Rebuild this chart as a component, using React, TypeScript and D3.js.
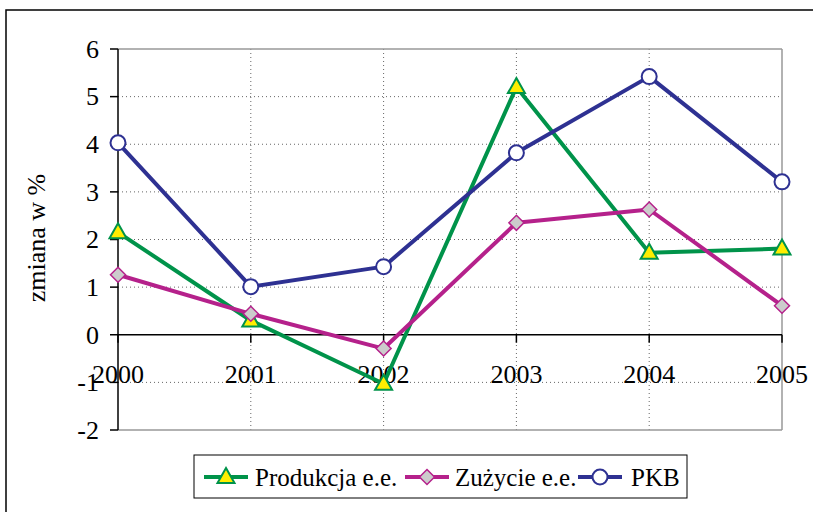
import React from 'react';
import * as d3 from 'd3';

const years = ['2000', '2001', '2002', '2003', '2004', '2005'];
const produkcja = [2.15, 0.3, -1.03, 5.2, 1.72, 1.81];
const zuzycie = [1.26, 0.44, -0.29, 2.35, 2.63, 0.61];
const pkb = [4.03, 1.01, 1.43, 3.82, 5.42, 3.21];
const yTicks = [-2, -1, 0, 1, 2, 3, 4, 5, 6];

const GREEN = '#00934a';
const MAGENTA = '#b5218b';
const NAVY = '#2e3192';
const FONT = "'Liberation Serif', 'Times New Roman', 'DejaVu Serif', serif";

const W = 813;
const H = 512;
const plot = { left: 118, right: 782, top: 49, bottom: 430 };

const x = d3.scalePoint<string>().domain(years).range([plot.left, plot.right]);
const y = d3.scaleLinear().domain([-2, 6]).range([plot.bottom, plot.top]);

const line = d3.line<number>()
  .x((_, i) => x(years[i])!)
  .y(d => y(d));

const Triangle = ({ cx, cy }: { cx: number; cy: number }) => (
  <path
    d={`M${cx},${cy - 9} L${cx + 8.5},${cy + 6} L${cx - 8.5},${cy + 6} Z`}
    fill="#ffed00"
    stroke={GREEN}
    strokeWidth={2}
  />
);

const Diamond = ({ cx, cy }: { cx: number; cy: number }) => (
  <path
    d={`M${cx},${cy - 7.5} L${cx + 7.5},${cy} L${cx},${cy + 7.5} L${cx - 7.5},${cy} Z`}
    fill="#cccccc"
    stroke={MAGENTA}
    strokeWidth={1.5}
  />
);

const Circle = ({ cx, cy }: { cx: number; cy: number }) => (
  <circle cx={cx} cy={cy} r={7.5} fill="#fff" stroke={NAVY} strokeWidth={2} />
);

const series = [
  { name: 'Produkcja e.e.', values: produkcja, color: GREEN, Marker: Triangle },
  { name: 'Zużycie e.e.', values: zuzycie, color: MAGENTA, Marker: Diamond },
  { name: 'PKB', values: pkb, color: NAVY, Marker: Circle },
];

const legendItems = [
  { lineX: 204, textX: 255 },
  { lineX: 405, textX: 455 },
  { lineX: 578, textX: 631 },
];

const txt = { fontFamily: FONT, fontSize: 26, fill: '#000' };
const legendTxt = { ...txt, fontSize: 25 };

export default function App() {
  const y0 = y(0);
  return (
    <svg width={W} height={H} style={{ position: 'absolute', left: 0, top: 0, background: '#fff' }}>
      {/* outer frame */}
      <rect x={6} y={10} width={W + 10} height={H + 10} fill="none" stroke="#000" strokeWidth={1.5} />

      {/* grid */}
      {yTicks.filter(t => t !== 0 && t !== -2 && t !== 6).map(t => (
        <line key={'gy' + t} x1={plot.left} x2={plot.right} y1={y(t)} y2={y(t)}
          stroke="#666" strokeWidth={1} strokeDasharray="1,3" />
      ))}
      {years.slice(1, -1).map(yr => (
        <line key={'gx' + yr} x1={x(yr)} x2={x(yr)} y1={plot.top} y2={plot.bottom}
          stroke="#666" strokeWidth={1} strokeDasharray="1,3" />
      ))}

      {/* plot border */}
      <line x1={plot.left} x2={plot.right} y1={plot.top} y2={plot.top} stroke="#999" strokeWidth={1.5} />
      <line x1={plot.right} x2={plot.right} y1={plot.top} y2={plot.bottom} stroke="#999" strokeWidth={1.5} />
      <line x1={plot.left} x2={plot.right} y1={plot.bottom} y2={plot.bottom} stroke="#999" strokeWidth={1.5} />

      {/* y axis */}
      <line x1={plot.left} x2={plot.left} y1={plot.top} y2={plot.bottom} stroke="#000" strokeWidth={1.5} />
      {yTicks.map(t => (
        <g key={'yt' + t}>
          <line x1={plot.left - 8} x2={plot.left} y1={y(t)} y2={y(t)} stroke="#000" strokeWidth={1.5} />
          <text x={99} y={y(t)} dy="0.34em" textAnchor="end" style={txt}>{t}</text>
        </g>
      ))}

      {/* x axis at 0 */}
      <line x1={plot.left} x2={plot.right} y1={y0} y2={y0} stroke="#000" strokeWidth={1.5} />
      {years.map(yr => (
        <g key={'xt' + yr}>
          <line x1={x(yr)} x2={x(yr)} y1={y0} y2={y0 + 8} stroke="#000" strokeWidth={1.5} />
          <text x={x(yr)} y={383} textAnchor="middle" style={txt}>{yr}</text>
        </g>
      ))}

      <text transform="translate(45,238) rotate(-90)" textAnchor="middle" style={txt}>zmiana w %</text>

      {/* series */}
      {series.map(s => (
        <g key={s.name}>
          <path d={line(s.values)!} fill="none" stroke={s.color} strokeWidth={4} strokeLinejoin="round" />
          {s.values.map((v, i) => (
            <s.Marker key={i} cx={x(years[i])!} cy={y(v)} />
          ))}
        </g>
      ))}

      {/* legend */}
      <rect x={194} y={455} width={493} height={43} fill="#fff" stroke="#000" strokeWidth={1} />
      {series.map((s, i) => {
        const it = legendItems[i];
        return (
          <g key={'lg' + s.name}>
            <line x1={it.lineX} x2={it.lineX + 44} y1={477} y2={477} stroke={s.color} strokeWidth={4} />
            <s.Marker cx={it.lineX + 22} cy={477} />
            <text x={it.textX} y={486} style={legendTxt}>{s.name}</text>
          </g>
        );
      })}
    </svg>
  );
}
